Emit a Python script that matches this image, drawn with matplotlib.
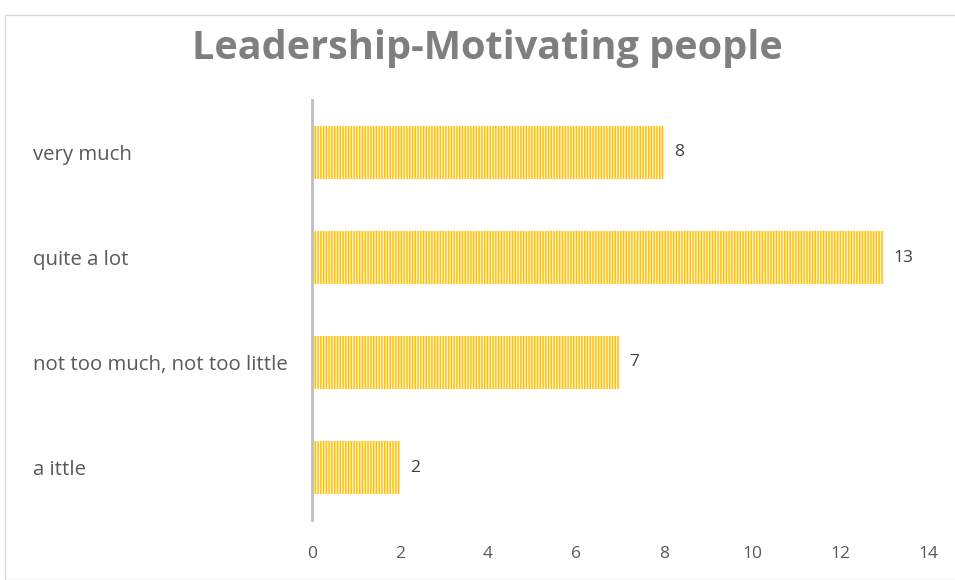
import matplotlib.pyplot as plt
from matplotlib.patches import Rectangle

# ---- data ----
categories = ["a ittle", "not too much, not too little", "quite a lot", "very much"]
counts = [2, 7, 13, 8]
x_ticks = [0, 2, 4, 6, 8, 10, 12, 14]

plt.rcParams['font.family'] = ['Open Sans', 'DejaVu Sans']
plt.rcParams['hatch.linewidth'] = 1.0
plt.rcParams['hatch.color'] = '#FFC000'

fig = plt.figure(figsize=(9.55, 5.8), dpi=100)
ax = fig.add_axes([312 / 955, 1 - 520 / 580, 616 / 955, 420 / 580])

# light frame around the chart area
fig.patches.append(Rectangle((5 / 955, 0), 1.0, 1 - 15 / 580, transform=fig.transFigure,
                             fill=False, edgecolor='#d9d9d9', linewidth=1.0))

ypos = list(range(len(categories)))
bars = ax.barh(ypos, counts, height=0.5, color='#FFF2CC', edgecolor='#FFC000',
               linewidth=0.0, hatch='||||||')

for y, v in zip(ypos, counts):
    ax.text(v + 0.22, y, f"{v}", va='center', ha='left', fontsize=12.5, color='#404040')

for y, c in zip(ypos, categories):
    ax.text(-0.453, y - 0.02, c, transform=ax.get_yaxis_transform(), va='center', ha='left',
            fontsize=14.7, color='#595959')

ax.set_xlim(0, 14)
ax.set_ylim(-0.5, len(categories) - 0.5)
ax.set_xticks(x_ticks)
ax.set_yticks([])
ax.tick_params(axis='x', length=0, pad=19, labelsize=12.5, labelcolor='#595959')

for side in ['top', 'right', 'bottom']:
    ax.spines[side].set_visible(False)
ax.spines['left'].set_color('#bfbfbf')
ax.spines['left'].set_linewidth(2)

fig.text(487 / 955, 1 - 49 / 580, "Leadership-Motivating people", ha='center', va='center',
         fontsize=28.5, fontweight='bold', color='#7f7f7f')

fig.savefig("out.png", dpi=100)
